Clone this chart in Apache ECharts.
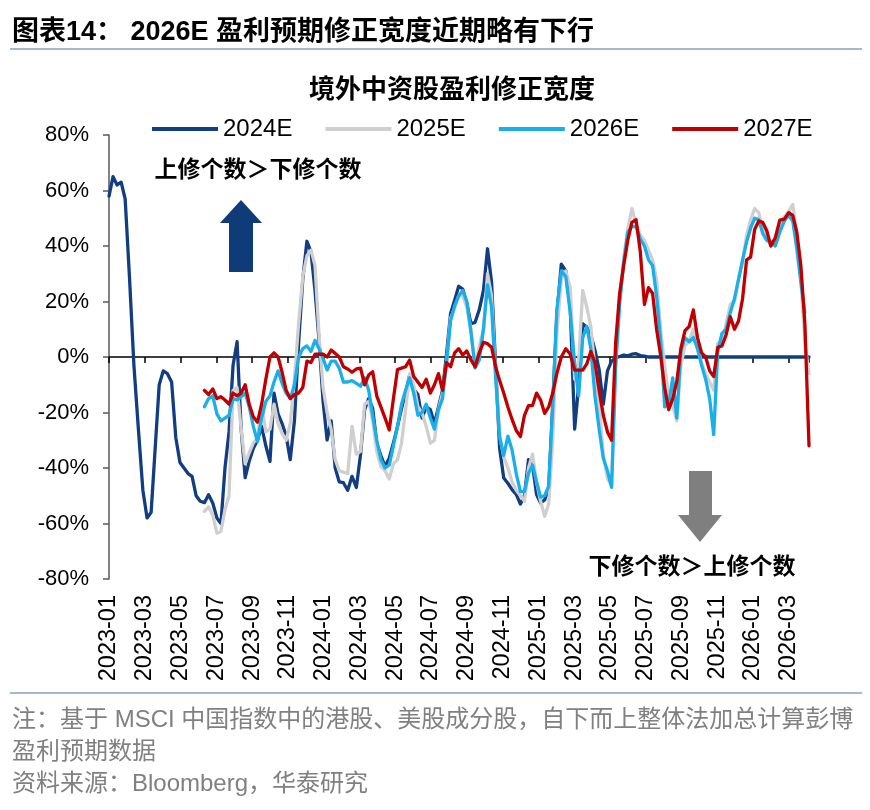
<!DOCTYPE html>
<html><head><meta charset="utf-8">
<script src="https://cdn.jsdelivr.net/npm/echarts@6/dist/echarts.min.js"></script>
<style>html,body{margin:0;padding:0;background:#fff}#c{width:870px;height:810px}</style>
</head><body><div id="c"></div>
<script>
// ---- data ----
const startDate = '2023-01-01';   // weekly observations
const weekCount = 171;
const seriesNames = ['2024E', '2025E', '2026E', '2027E'];
const tickLabels = ['2023-01','2023-03','2023-05','2023-07','2023-09','2023-11',
  '2024-01','2024-03','2024-05','2024-07','2024-09','2024-11',
  '2025-01','2025-03','2025-05','2025-07','2025-09','2025-11',
  '2026-01','2026-03'];
const yTicks = [-80, -60, -40, -20, 0, 20, 40, 60, 80];

const s2024 = [58,65,62,63,57,29,-3,-26,-48,-58,
-56,-33,-10,-5,-6,-9,-29,-38,-40,-42,
-43,-50,-52,-52.5,-49.6,-52.6,-58,-60,-40,-27,
-3,5.5,-26,-43.5,-37.5,-33,-30,-25,-32,-37.6,
-13,-20.5,-24,-28.5,-37,-23,5,28,41.7,38,
24,6,-16,-29.9,-23,-40,-45,-45.3,-48,-43,
-47,-35,-19,-15,-18.5,-31,-35.5,-39.5,-36.5,-31,
-25,-18.5,-13,-6.5,-11.5,-13.5,-22,-18,-19,-24,
-18,-12,1,15.7,20.5,25.5,24.5,19.5,12,12.5,
17,24,39,27,-3,-33,-43.6,-45.5,-47.8,-49.5,
-53,-50,-37,-39,-49.6,-52.6,-51.5,-47.5,-17,15,
33.5,31,18,-26,-10,12,10.7,8,2.5,-4.5,
-17,-5,-1.5,-0.3,0.2,0.7,0.4,1,1.2,0.5,
0.3,0,0,0,0,0,0,0,0,0,
0,0,0,0,0,0,0,0,0,0,
0,0,0,0,0,0,0,0,0,0,
0,0,0,0,0,0,0,0,0,0,0];

const s2025 = [null,null,null,null,null,null,null,null,null,null,
null,null,null,null,null,null,null,null,null,null,null,null,null,
-55.6,-54,-57,-63.5,-62.8,-55,-50,
-12,-11,-26,-38.5,-34.5,-31,-29,-17,-27,-26,
-17,-24,-27.5,-30,-24,-8,12,29,36.5,38.5,
33,8,-11,-20,-26,-37,-41,-41.5,-42,-25,
-35,-34,-17,-16,-23,-34,-39.5,-41,-44,-38.5,
-37,-31,-19,-6,-10,-17.9,-20,-25,-31,-30,
-19,-13,-2,14,17.5,22,22,18,10,-3.5,
4,10,30,22,-6,-28,-36,-40,-45,-48,
-50,-52,-40,-35,-45,-52,-57.4,-53,-30,8,
28,31,25,-8,-1,24,18,11,-4,-17,
-35,-44,-46,2,22,36,46,53.5,48,44,
42,38.5,35,28,10,-3,-14,-17.5,-23,-3,
4,6,10,3,-2,-6,-9,-12,5,5,
12,19,20,28,34,44,49.5,53.5,52,46,
43,40,43,47,50.5,52.5,55,44,28,5,-6];

const s2026 = [null,null,null,null,null,null,null,null,null,null,
null,null,null,null,null,null,null,null,null,null,null,null,null,
-17.9,-15,-14,-20.5,-23,-22,-21,
-15,-15.5,-14.3,-13,-17.9,-25,-30.5,-22,-16,-14,
-9,-5,-9.5,-13,-15,-10,0,3,4,2,
6,3,-0.5,-4.7,-1.5,-1.5,-4,-9,-9,-8.5,
-9.5,-10.5,-7.5,-12,-21,-30,-37,-40,-39,-32,
-25,-17,-12,-7.5,-13,-21,-20,-17,-22,-26,
-19,-15,-2,13,18.5,22,24,20,9,-4,
-1,10,26,18,-7,-29,-35.5,-28.5,-33.5,-42,
-48.5,-48.5,-42,-39,-45,-50.5,-50,-46.5,-18,17,
31,29,16,-2.5,-14,7,11,3,-14,-26,
-36.5,-41,-47,-4,19,34,45,47,47,42.5,
40,35,33,22,6,-18,-17,-7.5,-22,2,
7,5.5,7,3,-3,-8,-15,-28,2,8.5,
10,16,21,28,35,41.5,46.5,50,49.5,44.5,
42,41.5,40,45,49,51,49,39,27,16,null];

const s2027 = [null,null,null,null,null,null,null,null,null,null,
null,null,null,null,null,null,null,null,null,null,null,null,null,
-12,-13.5,-11.5,-15,-14.3,-15.5,-17,
-13,-14,-13,-10,-17,-21.5,-23.5,-17,-8,0,
1.5,0,-5.5,-12,-15,-13.5,-13,-11,-1.5,-2,
1,1,1,0,2.5,1.3,0,-3.5,-4.3,-5.5,
-4.3,-4,-10,-6.5,-5.3,-14,-18,-22,-26.3,-15,
-4.5,-4,-3.5,-1.1,-7,-9,-11,-8,-13,-10,
-6,-12,-2,-3.5,1.5,3,0.7,2.2,-1,-3.5,
1.5,5.3,4.8,3.5,-3.5,-8.5,-13,-18,-22.5,-26.5,
-28.7,-21,-17.5,-17.5,-13,-15.5,-20.3,-18,-13,-6,
0,3,1,-4.7,-4.7,-4.7,-2.5,2,-2,-12,
-21,-27,-30,5,23,33,42,48.5,49.5,38,
19,25,23,10,0.5,-11,-19,-15,-8.9,3,
9.5,11,17,7,1.5,0,-5,-7,3.5,4,
8,14.5,10,13,21,35,36,46,49,48.5,
45.5,40,43,49.3,49.7,52,51,45,33,12,-32];

// ---- build ----
const colors = ['#123D80', '#CFCFCF', '#1AAFE8', '#C00000'];
const dates = [];
{
  const [y0, m0, d0] = startDate.split('-').map(Number);
  const t0 = Date.UTC(y0, m0 - 1, d0);
  for (let i = 0; i < weekCount; i++) {
    dates.push(new Date(t0 + i * 7 * 86400000).toISOString().slice(0, 10));
  }
}
function monthPos(ds) {
  const [y, m, d] = ds.split('-').map(Number);
  const dim = new Date(Date.UTC(y, m, 0)).getUTCDate();
  return (y - 2023) * 12 + (m - 1) + (d - 1) / dim;
}
const xs = dates.map(monthPos);
const toPairs = vals => vals.map((v, i) => [xs[i], v]).filter(p => p[1] !== null);
const allSeries = [s2024, s2025, s2026, s2027];

const LATIN = '"Liberation Sans", Arial, "Noto Sans CJK SC", sans-serif';
const CJK = '"Noto Sans CJK SC", "Liberation Sans", sans-serif';

const xCommon = {
  type: 'value', min: 0, max: xs[xs.length - 1], interval: 2,
  splitLine: { show: false }
};

const option = {
  animation: false,
  backgroundColor: '#fff',
  grid: { left: 109, right: 61, top: 135, bottom: 231, containLabel: false },
  legend: {
    data: seriesNames, left: 147, top: 112, itemWidth: 66, itemHeight: 4, itemGap: 33,
    icon: 'rect',
    textStyle: { fontSize: 24, color: '#000', fontFamily: LATIN }
  },
  xAxis: [
    Object.assign({}, xCommon, {
      position: 'bottom',
      axisLine: { show: false, onZero: false },
      axisTick: { show: false },
      axisLabel: {
        rotate: 90, margin: 16, fontSize: 23.5, color: '#000', fontFamily: LATIN,
        showMaxLabel: false,
        formatter: v => tickLabels[Math.round(v / 2)] || ''
      }
    }),
    Object.assign({}, xCommon, {
      position: 'top',
      axisLine: { show: true, onZero: true, lineStyle: { color: '#000', width: 1.5 } },
      axisTick: { show: true, inside: true, length: 6, lineStyle: { color: '#000', width: 1.5 } },
      axisLabel: { show: false }
    })
  ],
  yAxis: {
    type: 'value', min: yTicks[0], max: yTicks[yTicks.length - 1], interval: 20,
    axisLine: { show: true, lineStyle: { color: '#595959', width: 1.5 } },
    axisTick: { show: true, length: 6, lineStyle: { color: '#595959', width: 1.5 } },
    splitLine: { show: false },
    axisLabel: { margin: 20, fontSize: 22, color: '#000', fontFamily: LATIN, formatter: v => v + '%' }
  },
  series: seriesNames.map((name, i) => ({
    name, type: 'line', xAxisIndex: 0, data: toPairs(allSeries[i]),
    symbol: 'none', showSymbol: false,
    lineStyle: { width: 3.3, color: colors[i], join: 'round', cap: 'round' }, itemStyle: { color: colors[i] },
    z: 2 + i
  })),
  graphic: [
    { type: 'text', silent: true, style: { text: '图表14： 2026E 盈利预期修正宽度近期略有下行', x: 12, y: 33,
      font: 'bold 27px ' + LATIN, fill: '#000', textVerticalAlign: 'middle' } },
    { type: 'line', silent: true, shape: { x1: 10, y1: 49, x2: 862, y2: 49 }, style: { stroke: '#A3B7D1', lineWidth: 2 } },
    { type: 'text', silent: true, style: { text: '境外中资股盈利修正宽度', x: 452, y: 88,
      font: 'bold 26px ' + CJK, fill: '#000', textAlign: 'center', textVerticalAlign: 'middle' } },
    { type: 'text', silent: true, style: { text: '上修个数＞下修个数', x: 258, y: 168,
      font: 'bold 23px ' + CJK, fill: '#000', textAlign: 'center', textVerticalAlign: 'middle' } },
    { type: 'polygon', silent: true, shape: { points: [[241, 200], [262, 223], [253, 223], [253, 272], [229, 272], [229, 223], [220, 223]] },
      style: { fill: '#0F3B78' } },
    { type: 'polygon', silent: true, shape: { points: [[689, 471], [712, 471], [712, 515], [722, 515], [700, 542], [678, 515], [689, 515]] },
      style: { fill: '#7F7F7F' } },
    { type: 'text', silent: true, style: { text: '下修个数＞上修个数', x: 692, y: 565,
      font: 'bold 23px ' + CJK, fill: '#000', textAlign: 'center', textVerticalAlign: 'middle' } },
    { type: 'line', silent: true, shape: { x1: 10, y1: 693, x2: 862, y2: 693 }, style: { stroke: '#A3B7D1', lineWidth: 2 } },
    { type: 'text', silent: true, style: { text: '注：基于 MSCI 中国指数中的港股、美股成分股，自下而上整体法加总计算彭博', x: 12, y: 720,
      font: '24px ' + LATIN, fill: '#808080', textVerticalAlign: 'middle' } },
    { type: 'text', silent: true, style: { text: '盈利预期数据', x: 12, y: 752,
      font: '24px ' + LATIN, fill: '#808080', textVerticalAlign: 'middle' } },
    { type: 'text', silent: true, style: { text: '资料来源：Bloomberg，华泰研究', x: 12, y: 784,
      font: '24px ' + LATIN, fill: '#808080', textVerticalAlign: 'middle' } }
  ]
};

const chart = echarts.init(document.getElementById('c'));
chart.setOption(option);
</script></body></html>
